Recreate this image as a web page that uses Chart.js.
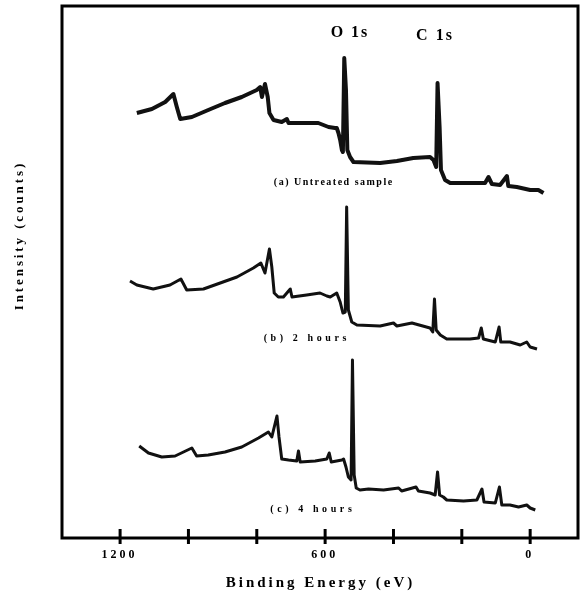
<!DOCTYPE html>
<html>
<head>
<meta charset="utf-8">
<script src="https://cdn.jsdelivr.net/npm/chart.js@4.4.0/dist/chart.umd.min.js"></script>
<style>
  body { margin: 0; background: #fff; }
  canvas { display: block; }
</style>
</head>
<body>
<canvas id="xpsChart" width="581" height="596"></canvas>
<script>
// binding energy (eV) and intensity (arb. counts, offset per trace)
const energyA = [1151, 1107, 1068, 1044, 1034, 1024, 990, 942, 893, 844, 800, 790, 785, 776, 768, 763, 751, 727, 712, 707, 668, 620, 590, 571, 566, 561, 556, 551, 548, 544, 539, 535, 527, 517, 439, 390, 342, 293, 283, 275, 271, 265, 261, 249, 234, 176, 132, 122, 112, 88, 68, 64, 39, 0, -24, -39];
const countsA = [425, 429, 436, 444, 431, 419, 421, 428, 435, 441, 448, 451, 441, 454, 441, 425, 418, 416, 419, 415, 415, 415, 411, 410, 410, 405, 398, 388, 386, 480, 448, 388, 381, 376, 375, 377, 380, 381, 378, 371, 455, 411, 368, 358, 355, 355, 355, 361, 354, 353, 362, 352, 351, 348, 348, 345];

const energyB = [1171, 1151, 1103, 1054, 1022, 1005, 956, 907, 858, 810, 788, 776, 763, 756, 749, 737, 722, 702, 697, 654, 615, 595, 585, 566, 556, 548, 541, 537, 532, 522, 507, 439, 400, 390, 346, 293, 285, 280, 275, 263, 244, 176, 151, 143, 137, 102, 91, 86, 59, 29, 10, 0, -20];
const countsB = [257, 253, 249, 253, 259, 248, 249, 255, 261, 270, 275, 265, 289, 271, 245, 241, 241, 249, 241, 243, 245, 242, 241, 245, 236, 225, 226, 331, 228, 216, 213, 212, 215, 212, 215, 210, 206, 239, 208, 203, 199, 199, 200, 210, 199, 196, 211, 196, 196, 193, 196, 191, 189];

const energyC = [1144, 1117, 1078, 1039, 990, 976, 942, 893, 844, 795, 766, 756, 741, 735, 727, 707, 683, 678, 673, 629, 595, 588, 582, 551, 546, 539, 532, 524, 520, 515, 509, 498, 473, 429, 385, 376, 334, 327, 293, 278, 271, 265, 254, 244, 195, 156, 141, 135, 102, 90, 83, 59, 34, 10, 0, -15];
const countsC = [92, 85, 81, 82, 90, 82, 83, 86, 91, 100, 106, 101, 122, 101, 79, 78, 77, 87, 76, 77, 79, 85, 76, 78, 79, 71, 61, 58, 178, 63, 50, 48, 49, 48, 50, 47, 51, 47, 45, 43, 66, 43, 41, 38, 37, 38, 49, 36, 35, 51, 33, 33, 31, 33, 30, 28];

const xTicks = [1200, 1000, 800, 600, 400, 200, 0];
const xTickLabels = ['1200', '', '', '600', '', '', '0'];

const peakLabels = ['O 1s', 'C 1s'];
const traceLabels = ['(a) Untreated sample', '(b) 2 hours', '(c) 4 hours'];

const toPoints = (xs, ys) => xs.map((x, i) => ({ x: x, y: ys[i] }));

const serif = "'Liberation Serif', 'DejaVu Serif', serif";

const drawText = (ctx, text, x, y, size, spacing) => {
  ctx.save();
  ctx.font = 'bold ' + size + 'px ' + serif;
  ctx.letterSpacing = spacing + 'px';
  ctx.fillStyle = '#000';
  ctx.textAlign = 'center';
  ctx.textBaseline = 'middle';
  ctx.fillText(text, x + spacing / 2, y);
  ctx.restore();
};

// frame, tick marks and all the lettering
const framePlugin = {
  id: 'frame',
  afterDatasetsDraw(chart) {
    const ctx = chart.ctx;
    const area = chart.chartArea;
    const xs = chart.scales.x;

    ctx.save();
    ctx.strokeStyle = '#000';
    ctx.lineWidth = 3;
    ctx.strokeRect(area.left, area.top, area.right - area.left, area.bottom - area.top);

    xTicks.forEach((t, i) => {
      const px = xs.getPixelForValue(t);
      ctx.beginPath();
      ctx.moveTo(px, area.bottom - 9);
      ctx.lineTo(px, area.bottom + 6);
      ctx.stroke();
      if (xTickLabels[i]) {
        drawText(ctx, xTickLabels[i], px - 2, area.bottom + 17, 12, 3);
      }
    });
    ctx.restore();

    drawText(ctx, 'Binding Energy (eV)', 319, 583, 15, 3);

    ctx.save();
    ctx.translate(20, 237);
    ctx.rotate(-Math.PI / 2);
    drawText(ctx, 'Intensity (counts)', 0, 0, 13, 2.9);
    ctx.restore();

    drawText(ctx, peakLabels[0], 349, 33, 16, 2);
    drawText(ctx, peakLabels[1], 434, 36, 16, 2);

    drawText(ctx, traceLabels[0], 333, 182, 10, 1.5);
    drawText(ctx, traceLabels[1], 305, 338, 10, 3.6);
    drawText(ctx, traceLabels[2], 311, 509, 10, 3.6);
  }
};

const ctx = document.getElementById('xpsChart').getContext('2d');
new Chart(ctx, {
  type: 'line',
  data: {
    datasets: [
      { label: traceLabels[0], data: toPoints(energyA, countsA), borderWidth: 4 },
      { label: traceLabels[1], data: toPoints(energyB, countsB), borderWidth: 3 },
      { label: traceLabels[2], data: toPoints(energyC, countsC), borderWidth: 3 }
    ].map((d) => Object.assign(d, {
      borderColor: '#111',
      pointRadius: 0,
      tension: 0,
      fill: false,
      borderJoinStyle: 'round'
    }))
  },
  options: {
    responsive: false,
    animation: false,
    layout: { padding: { left: 62, right: 3, top: 6, bottom: 58 } },
    scales: {
      x: { type: 'linear', reverse: true, min: -140, max: 1370, display: false },
      y: { type: 'linear', min: 0, max: 532, display: false }
    },
    plugins: {
      legend: { display: false },
      tooltip: { enabled: false }
    }
  },
  plugins: [framePlugin]
});
</script>
</body>
</html>
